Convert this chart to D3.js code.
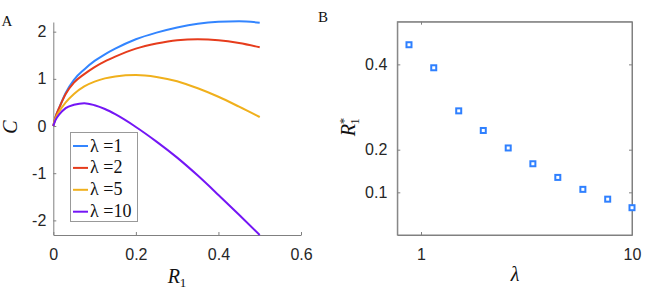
<!DOCTYPE html>
<html>
<head>
<meta charset="utf-8">
<script src="https://cdn.jsdelivr.net/npm/d3@7"></script>
<style>
  body { margin: 0; background: #fff; }
  svg { display: block; }
  .tick text { font-family: "Liberation Sans", Arial, sans-serif; font-size: 16px; fill: #262626; }
  .serif { font-family: "Liberation Serif", "Times New Roman", serif; fill: #111; }
</style>
</head>
<body>
<svg width="664" height="291"></svg>
<script>
// panel A: C vs R1 for several lambda
const r1 = [0, 0.005, 0.015, 0.03, 0.05, 0.075, 0.1, 0.125, 0.15, 0.2, 0.25, 0.3, 0.35, 0.4, 0.45, 0.5];
const cLam1 = [0, 0.18, 0.4, 0.7, 0.98, 1.2, 1.38, 1.52, 1.64, 1.84, 1.98, 2.09, 2.17, 2.21, 2.22, 2.19];
const cLam2 = [0, 0.18, 0.4, 0.68, 0.92, 1.1, 1.25, 1.37, 1.47, 1.64, 1.75, 1.82, 1.84, 1.82, 1.76, 1.67];
const cLam5 = [0, 0.15, 0.32, 0.5, 0.68, 0.84, 0.94, 1.01, 1.05, 1.08, 1.04, 0.95, 0.8, 0.62, 0.41, 0.19];
const cLam10 = [0, 0.12, 0.25, 0.38, 0.45, 0.485, 0.44, 0.36, 0.25, -0.02, -0.33, -0.67, -1.05, -1.46, -1.88, -2.31];
const seriesNames = ["λ =1", "λ =2", "λ =5", "λ =10"];
const seriesColors = ["#3385ff", "#e63c1c", "#f0b01c", "#7416f5"];
const xTicksA = [0, 0.2, 0.4, 0.6];
const yTicksA = [-2, -1, 0, 1, 2];

// panel B: optimal R1 vs lambda
const lambdas = [0.877, 1.149, 1.509, 1.973, 2.59, 3.39, 4.45, 5.85, 7.67, 10.0];
const r1Star = [0.446, 0.392, 0.291, 0.245, 0.204, 0.167, 0.135, 0.107, 0.084, 0.064];
const xTicksB = [1, 10];
const yTicksB = [0.1, 0.2, 0.4];

const svg = d3.select("svg");
const axisCol = "#808080";

function styleAxis(g) {
  g.select(".domain").attr("stroke", axisCol);
  g.selectAll(".tick line").attr("stroke", axisCol);
}

// ---------- panel A ----------
var xA = d3.scaleLinear().domain([0, 0.6]).range([53.3, 301]);
var yA = d3.scaleLinear().domain([-2.31, 2.205]).range([235, 22]);

svg.append("g")
  .attr("transform", "translate(0,235)")
  .call(d3.axisBottom(xA).tickValues(xTicksA).tickSize(-3).tickSizeOuter(0).tickPadding(14).tickFormat(d3.format("")))
  .call(styleAxis);

svg.append("g")
  .attr("transform", "translate(53.3,0)")
  .call(d3.axisLeft(yA).tickValues(yTicksA).tickSize(-3).tickSizeOuter(0).tickPadding(7).tickFormat(d => d))
  .call(styleAxis);

var allC = [cLam1, cLam2, cLam5, cLam10];
var line = d3.line()
  .x((d, i) => xA(r1[i]))
  .y(d => yA(d))
  .curve(d3.curveMonotoneX);

allC.forEach((vals, k) => {
  svg.append("path")
    .attr("d", line(vals))
    .attr("fill", "none")
    .attr("stroke", seriesColors[k])
    .attr("stroke-width", 2);
});

// legend
var leg = svg.append("g");
leg.append("rect")
  .attr("x", 70.5).attr("y", 132.5)
  .attr("width", 67).attr("height", 89)
  .attr("fill", "#fff").attr("stroke", "#999").attr("stroke-width", 1);
seriesNames.forEach((name, k) => {
  var cy = 146 + k * 21.9;
  leg.append("line")
    .attr("x1", 73).attr("x2", 88).attr("y1", cy).attr("y2", cy)
    .attr("stroke", seriesColors[k]).attr("stroke-width", 2);
  leg.append("text")
    .attr("class", "serif")
    .attr("x", 90).attr("y", cy + 5.5)
    .attr("font-size", 18)
    .text(name);
});

svg.append("text").attr("class", "serif")
  .attr("transform", "translate(17,127) rotate(-90)")
  .attr("text-anchor", "middle")
  .attr("font-size", 20).attr("font-style", "italic")
  .text("C");

var rl = svg.append("text").attr("class", "serif")
  .attr("x", 177).attr("y", 283)
  .attr("text-anchor", "middle")
  .attr("font-size", 20);
rl.append("tspan").attr("font-style", "italic").text("R");
rl.append("tspan").attr("font-size", 13).attr("dy", 4).text("1");

svg.append("text").attr("class", "serif")
  .attr("x", 1.5).attr("y", 26).attr("font-size", 15).text("A");
svg.append("text").attr("class", "serif")
  .attr("x", 318).attr("y", 21.7).attr("font-size", 15).text("B");

// ---------- panel B ----------
var xB = d3.scaleLog().domain([0.772, 10]).range([397.3, 632]);
var yB = d3.scaleLinear().domain([0, 0.5]).range([235, 21.7]);

svg.append("rect")
  .attr("x", 397.3).attr("y", 21.7)
  .attr("width", 632 - 397.3).attr("height", 235 - 21.7)
  .attr("fill", "none").attr("stroke", axisCol);

svg.append("g")
  .attr("transform", "translate(0,235)")
  .call(d3.axisBottom(xB).tickValues(xTicksB).tickSize(-3).tickSizeOuter(0).tickPadding(14).tickFormat(d3.format("")))
  .call(styleAxis);
svg.append("g")
  .attr("transform", "translate(0,21.7)")
  .call(d3.axisTop(xB).tickValues(xTicksB).tickSize(-3).tickSizeOuter(0).tickFormat(""))
  .call(styleAxis);
svg.append("g")
  .attr("transform", "translate(397.3,0)")
  .call(d3.axisLeft(yB).tickValues(yTicksB).tickSize(-3).tickSizeOuter(0).tickPadding(10).tickFormat(d3.format("")))
  .call(styleAxis);
svg.append("g")
  .attr("transform", "translate(632,0)")
  .call(d3.axisRight(yB).tickValues(yTicksB).tickSize(-3).tickSizeOuter(0).tickFormat(""))
  .call(styleAxis);

svg.append("g").selectAll("rect")
  .data(lambdas)
  .enter()
  .append("rect")
  .attr("x", (d) => xB(d) - 2.5)
  .attr("y", (d, i) => yB(r1Star[i]) - 2.5)
  .attr("width", 5).attr("height", 5)
  .attr("fill", "#fff")
  .attr("stroke", "#2f80ff")
  .attr("stroke-width", 2);

var ry = svg.append("text").attr("class", "serif")
  .attr("transform", "translate(355,127) rotate(-90)")
  .attr("text-anchor", "middle")
  .attr("font-size", 20);
ry.append("tspan").attr("font-style", "italic").text("R");
ry.append("tspan").attr("font-size", 13).attr("dy", -7).attr("dx", 0).text("*");
ry.append("tspan").attr("font-size", 13).attr("dy", 11).attr("dx", -7).text("1");

svg.append("text").attr("class", "serif")
  .attr("x", 515).attr("y", 281)
  .attr("text-anchor", "middle")
  .attr("font-size", 20).attr("font-style", "italic")
  .text("λ");
</script>
</body>
</html>
